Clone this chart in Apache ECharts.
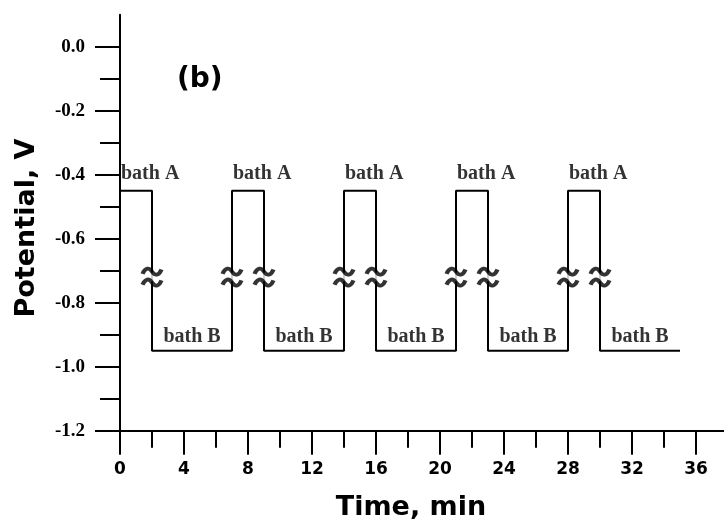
<!DOCTYPE html>
<html>
<head>
<meta charset="utf-8">
<style>
  html, body { margin: 0; padding: 0; background: #fff; }
  #chart { width: 724px; height: 527px; }
</style>
<script src="https://cdn.jsdelivr.net/npm/echarts@6/dist/echarts.min.js"></script>
</head>
<body>
<div id="chart"></div>
<script>
// ---- data ----
const riseTimes = [0, 7, 14, 21, 28];     // switch into bath A (min)
const fallTimes = [2, 9, 16, 23, 30];     // switch into bath B (min)
const endTime = 35;
const potentialA = -0.45;                 // V in bath A
const potentialB = -0.95;                 // V in bath B
const breakPotential = -0.72;             // position of the axis-break marks
const xMajorTicks = [0, 4, 8, 12, 16, 20, 24, 28, 32, 36];
const xMinorTicks = [2, 6, 10, 14, 18, 22, 26, 30, 34];
const yMajorTicks = [-1.2, -1.0, -0.8, -0.6, -0.4, -0.2, 0.0];
const yMinorTicks = [-1.1, -0.9, -0.7, -0.5, -0.3, -0.1];
const labelA = 'bath A';
const labelB = 'bath B';

// ---- build series from the arrays ----
const wave = [];
for (let i = 0; i < riseTimes.length; i++) {
  wave.push([riseTimes[i], potentialA]);
  wave.push([fallTimes[i], potentialA]);
  wave.push([fallTimes[i], potentialB]);
  const next = i + 1 < riseTimes.length ? riseTimes[i + 1] : endTime;
  wave.push([next, potentialB]);
}
const edges = [];
riseTimes.forEach((t, i) => { if (i > 0) edges.push(t); edges.push(fallTimes[i]); });
edges.sort((a, b) => a - b);
const breakData = edges.map(t => [t, breakPotential]);
const labelAData = riseTimes.map(t => [t, potentialA]);
const labelBData = fallTimes.map((t, i) => {
  const next = i + 1 < riseTimes.length ? riseTimes[i + 1] : endTime;
  return [(t + next) / 2, potentialB];
});

const serif = '"Liberation Serif", "Times New Roman", serif';
const sans = '"DejaVu Sans", Verdana, sans-serif';
const tildePath = 'path://M0,6 C3,0 7,0 10,4 C13,8 17,8 20,2 M0,16 C3,10 7,10 10,14 C13,18 17,18 20,12';

const chart = echarts.init(document.getElementById('chart'), null, { renderer: 'canvas' });
chart.setOption({
  backgroundColor: '#fff',
  animation: false,
  grid: { left: 120, right: 0, top: 14.7, bottom: 96.3, containLabel: false },
  xAxis: [
    {
      type: 'value', min: 0, max: 37.75, position: 'bottom',
      axisLine: { show: true, onZero: false, lineStyle: { color: '#000', width: 2 } },
      axisTick: { show: true, length: 24, customValues: xMajorTicks, lineStyle: { color: '#000', width: 2 } },
      axisLabel: { show: true, customValues: xMajorTicks, margin: 30, color: '#000',
        fontFamily: sans, fontWeight: 'bold', fontSize: 17 },
      splitLine: { show: false }
    },
    {
      type: 'value', min: 0, max: 37.75, position: 'bottom', gridIndex: 0,
      axisLine: { show: false, onZero: false },
      axisTick: { show: true, length: 17, customValues: xMinorTicks, lineStyle: { color: '#000', width: 2 } },
      axisLabel: { show: false },
      splitLine: { show: false }
    }
  ],
  yAxis: [
    {
      type: 'value', min: -1.2, max: 0.1, position: 'left',
      axisLine: { show: true, onZero: false, lineStyle: { color: '#000', width: 2 } },
      axisTick: { show: true, length: 25, customValues: yMajorTicks, lineStyle: { color: '#000', width: 2 } },
      axisLabel: { show: true, customValues: yMajorTicks, margin: 35, color: '#000',
        fontFamily: serif, fontWeight: 'bold', fontSize: 19,
        formatter: v => Number(v).toFixed(1) },
      splitLine: { show: false }
    },
    {
      type: 'value', min: -1.2, max: 0.1, position: 'left', offset: 0,
      axisLine: { show: false, onZero: false },
      axisTick: { show: true, length: 20, customValues: yMinorTicks, lineStyle: { color: '#000', width: 2 } },
      axisLabel: { show: false },
      splitLine: { show: false }
    }
  ],
  series: [
    {
      type: 'line', data: wave, xAxisIndex: 0, yAxisIndex: 0, z: 2,
      symbol: 'none', lineStyle: { color: '#000', width: 2 }
    },
    {
      type: 'scatter', data: breakData, z: 3, silent: true,
      symbol: 'rect', symbolSize: [8, 9], itemStyle: { color: '#fff' }
    },
    {
      type: 'scatter', data: breakData, z: 4, silent: true,
      symbol: tildePath, symbolSize: [19, 17],
      itemStyle: { color: 'none', borderColor: '#000', borderWidth: 4 }
    },
    {
      type: 'scatter', data: labelAData, z: 5, symbolSize: 0,
      label: { show: true, formatter: labelA, position: [1, -7], align: 'left', verticalAlign: 'bottom',
        color: '#000', fontFamily: serif, fontWeight: 'bold', fontSize: 20 }
    },
    {
      type: 'scatter', data: labelBData, z: 5, symbolSize: 0,
      label: { show: true, formatter: labelB, position: [0, -4], align: 'center', verticalAlign: 'bottom',
        color: '#000', fontFamily: serif, fontWeight: 'bold', fontSize: 20 }
    }
  ],
  graphic: [
    { type: 'text', x: 411, y: 508, style: { text: 'Time, min', fill: '#000',
        font: 'bold 27px ' + sans, align: 'center', verticalAlign: 'middle' } },
    { type: 'text', x: 27, y: 228, rotation: Math.PI / 2, style: { text: 'Potential, V', fill: '#000',
        font: 'bold 27px ' + sans, align: 'center', verticalAlign: 'middle' } },
    { type: 'text', x: 177, y: 80, style: { text: '(b)', fill: '#000',
        font: 'bold 28px ' + sans, align: 'left', verticalAlign: 'middle' } }
  ]
});
</script>
</body>
</html>
